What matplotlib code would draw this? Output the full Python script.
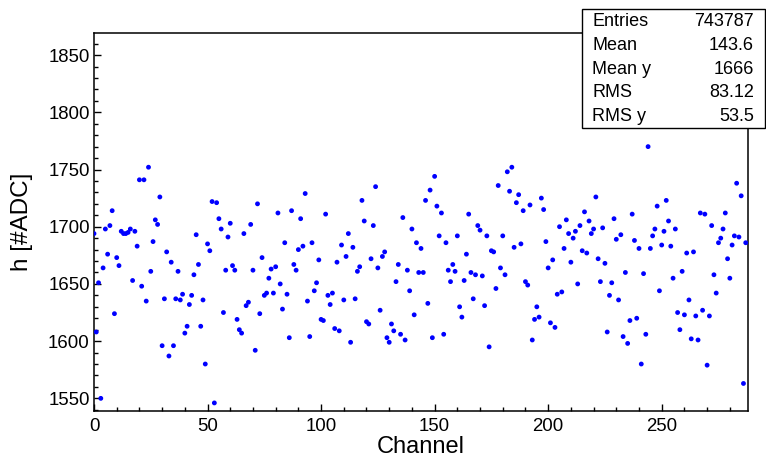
import matplotlib
matplotlib.use("Agg")
import matplotlib.pyplot as plt
from matplotlib.patches import Rectangle
from matplotlib.ticker import MultipleLocator
import numpy as np

plt.rcParams['font.family'] = ['Liberation Sans', 'DejaVu Sans']

# pedestal value per channel
h_adc = [
    1694, 1608, 1651, 1550, 1664, 1698, 1676, 1701, 1714, 1624, 1673, 1666, 1696, 1694, 1694, 1695,
    1698, 1653, 1696, 1683, 1741, 1648, 1741, 1635, 1752, 1661, 1687, 1706, 1702, 1726, 1596,
    1637, 1678, 1587, 1669, 1596, 1637, 1661, 1636, 1641, 1607, 1613, 1632, 1640, 1658, 1693, 1667,
    1613, 1636, 1580, 1685, 1679, 1722, 1546, 1721, 1707, 1698, 1625, 1662, 1691, 1703, 1666, 1662, 1619,
    1610, 1607, 1694, 1631, 1634, 1702, 1662, 1592, 1720, 1624, 1673, 1640, 1642, 1655, 1663, 1642,
    1665, 1712, 1650, 1628, 1686, 1641, 1603, 1714, 1667, 1662, 1680, 1707, 1683, 1729, 1635, 1604,
    1686, 1644, 1651, 1671, 1619, 1618, 1711, 1640, 1632, 1642, 1611, 1669, 1609, 1684, 1636, 1674,
    1694, 1599, 1682, 1637, 1661, 1665, 1723, 1705, 1617, 1615, 1672, 1701, 1735, 1664, 1627, 1674, 1678,
    1603, 1599, 1615, 1609, 1652, 1667, 1606, 1708, 1601, 1662, 1644, 1698, 1623, 1686, 1660, 1681,
    1660, 1723, 1633, 1732, 1603, 1744, 1718, 1692, 1712, 1606, 1686, 1662, 1652, 1667, 1661, 1692,
    1630, 1621, 1653, 1676, 1711, 1660, 1637, 1658, 1701, 1697, 1657, 1631, 1692, 1595, 1679, 1678,
    1646, 1736, 1664, 1692, 1658, 1748, 1731, 1752, 1682, 1721, 1728, 1685, 1714, 1652, 1649, 1719, 1601,
    1619, 1630, 1621, 1725, 1715, 1687, 1664, 1616, 1671, 1612, 1641, 1700, 1643, 1681, 1706, 1694,
    1669, 1690, 1696, 1650, 1701, 1679, 1713, 1677, 1705, 1694, 1698, 1726, 1672, 1652, 1699, 1668,
    1608, 1640, 1651, 1707, 1689, 1636, 1693, 1604, 1660, 1598, 1618, 1711, 1688, 1620, 1681, 1580,
    1659, 1606, 1770, 1681, 1692, 1698, 1718, 1644, 1684, 1696, 1723, 1705, 1683, 1655, 1698, 1625, 1610,
    1661, 1623, 1677, 1636, 1602, 1678, 1622, 1601, 1712, 1627, 1711, 1579, 1622, 1701, 1658, 1642,
    1686, 1690, 1698, 1712, 1672, 1655, 1684, 1692, 1738, 1691, 1727, 1563, 1686,
]
channel = np.arange(len(h_adc))

stat_names = ["Entries", "Mean", "Mean y", "RMS", "RMS y"]
stat_values = ["743787", "143.6", "1666", "83.12", "53.5"]

W, H = 766, 457
fig = plt.figure(figsize=(W / 100, H / 100), dpi=100)
ax = fig.add_axes([94 / W, 1 - 410.7 / H, (748 - 94) / W, (410.7 - 33) / H])

ax.scatter(channel, h_adc, s=12, color='#0000ff', edgecolors='none', zorder=3)

ax.set_xlim(0, 288)
ax.set_ylim(1539.2, 1869.3)
ax.xaxis.set_major_locator(MultipleLocator(50))
ax.xaxis.set_minor_locator(MultipleLocator(10))
ax.yaxis.set_major_locator(MultipleLocator(50))
ax.yaxis.set_minor_locator(MultipleLocator(10))
ax.tick_params(which='both', direction='in', top=False, right=False, labelsize=13.4, width=1)
ax.tick_params(which='major', length=5)
ax.tick_params(which='minor', length=2.8)
ax.tick_params(axis='x', pad=5)
ax.tick_params(axis='y', pad=3)
for sp in ax.spines.values():
    sp.set_linewidth(1.1)

ax.set_xlabel("Channel", fontsize=17)
ax.set_ylabel("h [#ADC]", fontsize=17.5)
ax.xaxis.set_label_coords(0.5, -0.066)
ax.yaxis.set_label_coords(-0.094, 0.5)

# stats box, drawn over the frame like ROOT does
x0, x1, y0, y1 = 582, 765, 9, 128
fig.add_artist(Rectangle((x0 / W, 1 - y1 / H), (x1 - x0) / W, (y1 - y0) / H,
                         transform=fig.transFigure, facecolor='white',
                         edgecolor='black', linewidth=1, zorder=5))
row_y = [21.7, 45.3, 69.0, 92.7, 116.4]
for name, val, ry in zip(stat_names, stat_values, row_y):
    fig.text(592.5 / W, 1 - ry / H, name, fontsize=13, ha='left', va='center', zorder=6)
    fig.text(754 / W, 1 - ry / H, val, fontsize=13, ha='right', va='center', zorder=6)

fig.savefig("out.png", dpi=100)
